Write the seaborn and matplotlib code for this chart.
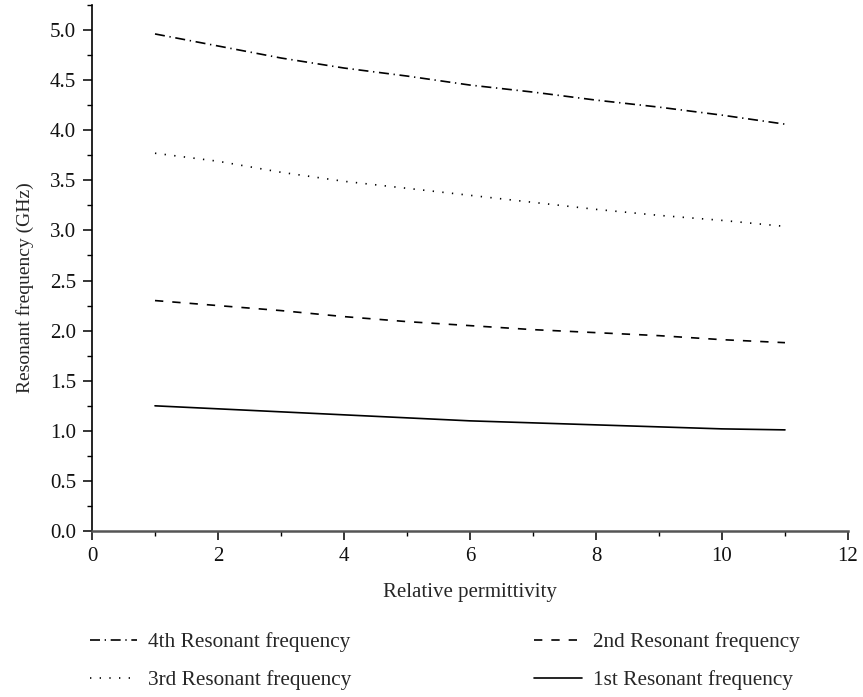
import numpy as np
import pandas as pd
import matplotlib
matplotlib.use("Agg")
import matplotlib.pyplot as plt
import seaborn as sns
from matplotlib.ticker import MultipleLocator, FormatStrFormatter

permittivity = [1, 2, 3, 4, 5, 6, 7, 8, 9, 10, 11]
f4 = [4.96, 4.84, 4.72, 4.62, 4.54, 4.45, 4.38, 4.30, 4.23, 4.15, 4.06]
f3 = [3.77, 3.69, 3.58, 3.49, 3.42, 3.35, 3.28, 3.21, 3.15, 3.10, 3.04]
f2 = [2.30, 2.25, 2.20, 2.14, 2.09, 2.05, 2.01, 1.98, 1.95, 1.91, 1.88]
f1 = [1.25, 1.22, 1.19, 1.16, 1.13, 1.10, 1.08, 1.06, 1.04, 1.02, 1.01]

labels = ["4th Resonant frequency", "3rd Resonant frequency",
          "2nd Resonant frequency", "1st Resonant frequency"]
series = [f4, f3, f2, f1]
styles = [(0, (6, 2.8, 0.8, 2.8)), (0, (0.8, 5.0)), (0, (5, 5.4)), "-"]

sns.set_theme(style="ticks")
plt.rcParams["font.family"] = ["Liberation Serif", "DejaVu Serif"]

fig = plt.figure(figsize=(8.63, 6.97), dpi=100)
ax = fig.add_axes([0.1066, 0.238, 0.876, 0.755])

handles = []
for lab, vals, ls in zip(labels, series, styles):
    df = pd.DataFrame({"x": permittivity, "y": vals})
    sns.lineplot(data=df, x="x", y="y", ax=ax, color="black",
                 linewidth=1.2, linestyle=ls, label=lab, legend=False)
    handles.append(ax.lines[-1])

ax.set_xlim(0, 12)
ax.set_ylim(0, 5.25)
ax.xaxis.set_major_locator(MultipleLocator(2))
ax.xaxis.set_minor_locator(MultipleLocator(1))
ax.yaxis.set_major_locator(MultipleLocator(0.5))
ax.yaxis.set_minor_locator(MultipleLocator(0.25))
ax.yaxis.set_major_formatter(FormatStrFormatter("%.1f"))

for side in ["top", "right"]:
    ax.spines[side].set_visible(False)
ax.spines["left"].set_color("black")
ax.spines["left"].set_linewidth(1.2)
ax.spines["bottom"].set_color("#555555")
ax.spines["bottom"].set_linewidth(1.8)

ax.tick_params(axis="both", which="major", direction="out", length=6.5,
               width=1.1, color="black", labelsize=15, labelcolor="#111111", pad=5)
ax.tick_params(axis="both", which="minor", direction="out", length=3.5,
               width=1.0, color="black")

ax.set_xlabel("Relative permittivity", fontsize=15, labelpad=12)
ax.set_ylabel("Resonant frequency (GHz)", fontsize=14)
ax.yaxis.set_label_coords(-0.0765, 0.462)

fig.legend(handles=handles, labels=labels, ncol=2, frameon=False,
           loc="upper center", bbox_to_anchor=(0.515, 0.12),
           fontsize=15.3, handlelength=2.25, columnspacing=8.6,
           labelspacing=0.85, handletextpad=0.5)

fig.savefig("out.png", dpi=100)
